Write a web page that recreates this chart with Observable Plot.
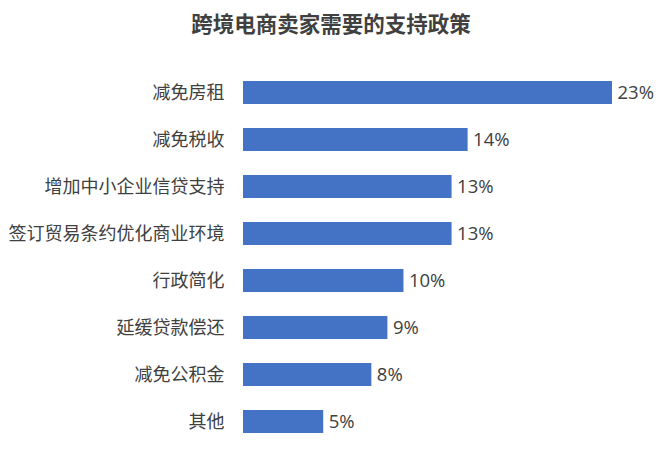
<!DOCTYPE html>
<html>
<head>
<meta charset="utf-8">
<script src="https://cdn.jsdelivr.net/npm/d3@7"></script>
<script src="https://cdn.jsdelivr.net/npm/@observablehq/plot@0.6"></script>
<style>
  body { margin: 0; background: #fff; font-family: "Noto Sans CJK SC", "Noto Sans", sans-serif; }
  #title { height: 45px; line-height: 45px; text-align: center; font-size: 21.5px; font-weight: bold; color: #404040; }
</style>
</head>
<body>
<div id="title">跨境电商卖家需要的支持政策</div>
<div id="chart"></div>
<script>
// Support policies wanted by cross-border e-commerce sellers (share of respondents, %)
const policies = ["减免房租", "减免税收", "增加中小企业信贷支持", "签订贸易条约优化商业环境", "行政简化", "延缓贷款偿还", "减免公积金", "其他"];
const shares = [23, 14, 13, 13, 10, 9, 8, 5];

const data = policies.map((p, i) => ({policy: p, share: shares[i]}));

const chart = Plot.plot({
  width: 662,
  height: 404,
  marginTop: 21,
  marginBottom: 2,
  marginLeft: 243,
  marginRight: 50,
  style: {fontFamily: "'Noto Sans CJK SC', 'Noto Sans', sans-serif", fontSize: "18px", color: "#404040", background: "#fff"},
  x: {domain: [0, 23], axis: null},
  y: {domain: policies, paddingInner: 0.52, paddingOuter: 0.26, label: null},
  marks: [
    Plot.axisY({tickSize: 0, tickPadding: 19, fontSize: 18, fill: "#404040", label: null}),
    Plot.barX(data, {x: "share", y: "policy", fill: "#4472C4"}),
    Plot.text(data, {x: "share", y: "policy", text: d => d.share + "%", textAnchor: "start", dx: 5, fontSize: 18.5, fill: "#404040", fontFamily: "'Open Sans', 'Noto Sans', sans-serif"})
  ]
});
document.getElementById("chart").appendChild(chart);
</script>
</body>
</html>
